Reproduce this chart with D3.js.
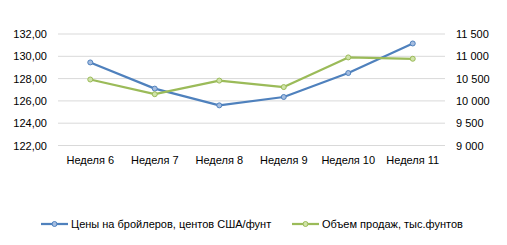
<!DOCTYPE html>
<html>
<head>
<meta charset="utf-8">
<script src="https://cdn.jsdelivr.net/npm/d3@7.9.0/dist/d3.min.js"></script>
<style>
  body { margin: 0; background: #fff; }
  text { font-family: "Liberation Sans", Arial, sans-serif; font-size: 11px; fill: #000; }
</style>
</head>
<body>
<svg width="507" height="245"></svg>
<script>
const weeks = ['Неделя 6', 'Неделя 7', 'Неделя 8', 'Неделя 9', 'Неделя 10', 'Неделя 11'];
const prices = [129.45, 127.1, 125.6, 126.35, 128.5, 131.15];
const sales = [10480, 10150, 10455, 10310, 10975, 10945];
const leftTicks = [122, 124, 126, 128, 130, 132];
const rightTicks = [9000, 9500, 10000, 10500, 11000, 11500];
const seriesNames = ['Цены на бройлеров, центов США/фунт', 'Объем продаж, тыс.фунтов'];

const svg = d3.select('svg');
const x0 = 58, x1 = 445, yTop = 34, yBot = 145.5;

let x = d3.scaleBand().domain(weeks).range([x0, x1]);
let yL = d3.scaleLinear().domain([122, 132]).range([yBot, yTop]);
let yR = d3.scaleLinear().domain([9000, 11500]).range([yBot, yTop]);

// gridlines
svg.selectAll('line.grid')
  .data(leftTicks)
  .join('line')
  .attr('x1', x0).attr('x2', x1)
  .attr('y1', d => yL(d)).attr('y2', d => yL(d))
  .attr('stroke', '#d9d9d9').attr('stroke-width', 1);

const fmtL = d => d.toFixed(2).replace('.', ',');
const fmtR = d => d3.format(',')(d).replace(',', ' ');

svg.selectAll('text.yl')
  .data(leftTicks)
  .join('text')
  .attr('x', 47).attr('y', d => yL(d) + 4)
  .attr('text-anchor', 'end')
  .text(fmtL);

svg.selectAll('text.yr')
  .data(rightTicks)
  .join('text')
  .attr('x', 456).attr('y', d => yR(d) + 4)
  .text(fmtR);

svg.selectAll('text.xl')
  .data(weeks)
  .join('text')
  .attr('x', d => x(d) + x.bandwidth() / 2).attr('y', 164)
  .attr('text-anchor', 'middle')
  .text(d => d);

const series = [
  { vals: prices, y: yL, color: '#4f81bd', fill: '#a5bde0' },
  { vals: sales, y: yR, color: '#9bbb59', fill: '#d0e3a8' }
];

series.forEach(s => {
  let line = d3.line()
    .x((d, i) => x(weeks[i]) + x.bandwidth() / 2)
    .y(d => s.y(d));
  svg.append('path')
    .attr('d', line(s.vals))
    .attr('fill', 'none')
    .attr('stroke', s.color)
    .attr('stroke-width', 2.25)
    .attr('stroke-linejoin', 'round');
  svg.append('g').selectAll('circle')
    .data(s.vals)
    .join('circle')
    .attr('cx', (d, i) => x(weeks[i]) + x.bandwidth() / 2)
    .attr('cy', d => s.y(d))
    .attr('r', 2.5)
    .attr('fill', s.fill)
    .attr('stroke', s.color)
    .attr('stroke-width', 1);
});

// legend
const legendX = [41, 292];
series.forEach((s, i) => {
  let g = svg.append('g').attr('transform', `translate(${legendX[i]},224)`);
  g.append('line').attr('x1', 0).attr('x2', 27).attr('y1', 0).attr('y2', 0)
    .attr('stroke', s.color).attr('stroke-width', 2.25);
  g.append('circle').attr('cx', 13.5).attr('cy', 0).attr('r', 2.5)
    .attr('fill', s.fill).attr('stroke', s.color);
  g.append('text').attr('x', 30).attr('y', 4).text(seriesNames[i]);
});
</script>
</body>
</html>
